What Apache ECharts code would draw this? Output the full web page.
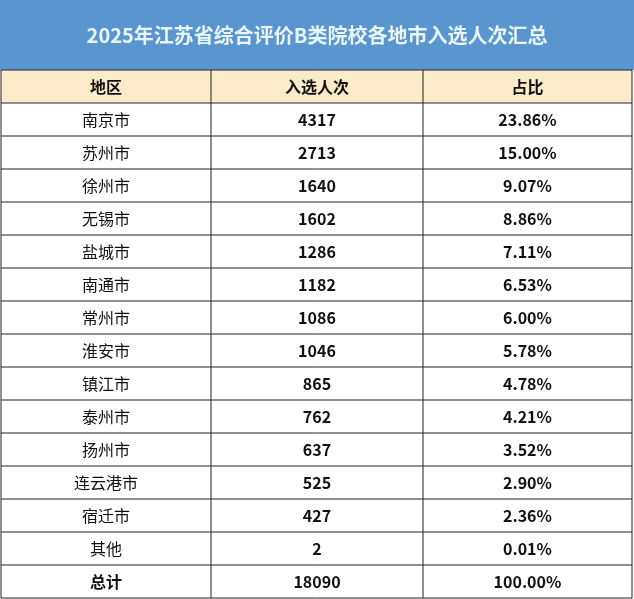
<!DOCTYPE html>
<html style="height:100%">
<head>
<meta charset="utf-8">
<script src="https://cdn.jsdelivr.net/npm/echarts@6/dist/echarts.min.js"></script>
</head>
<body style="height:100%;margin:0;background:#fff">
<div id="main" style="width:634px;height:599px;"></div>
<script type="text/javascript">
var title = '2025年江苏省综合评价B类院校各地市入选人次汇总';
var headers = ['地区', '入选人次', '占比'];
var regions = ['南京市','苏州市','徐州市','无锡市','盐城市','南通市','常州市','淮安市','镇江市','泰州市','扬州市','连云港市','宿迁市','其他','总计'];
var counts = [4317,2713,1640,1602,1286,1182,1086,1046,865,762,637,525,427,2,18090];
var shares = ['23.86%','15.00%','9.07%','8.86%','7.11%','6.53%','6.00%','5.78%','4.78%','4.21%','3.52%','2.90%','2.36%','0.01%','100.00%'];

var myChart = echarts.init(document.getElementById('main'));
// 表格布局
var colX = [1, 211, 423, 632];
var titleH = 70, headTop = 70, rowH = 33;
var font = '"Noto Sans CJK SC", sans-serif';
var els = [];

els.push({type:'rect', shape:{x:0,y:0,width:634,height:titleH}, style:{fill:'#5b95d0'}});
els.push({type:'text', x:317, y:35, style:{text:title, fill:'#e6f6fa', font:'bold 20px ' + font, align:'center', verticalAlign:'middle'}});
els.push({type:'rect', shape:{x:colX[0],y:headTop,width:colX[3]-colX[0],height:rowH}, style:{fill:'#fcebc8'}});

var rows = [headers];
regions.forEach(function(r, i){ rows.push([r, String(counts[i]), shares[i]]); });
var nRows = rows.length;

rows.forEach(function(row, i){
    var cy = headTop + rowH * i + rowH / 2;
    row.forEach(function(t, j){
        var bold = i === 0 || j > 0 || i === nRows - 1;
        els.push({type:'text', x:(colX[j]+colX[j+1])/2, y:cy,
            style:{text:t, fill:'#111', font:(bold?'bold ':'') + '16px ' + font, align:'center', verticalAlign:'middle'}});
    });
});

var bottom = headTop + rowH * nRows;
for (var i = 0; i <= nRows; i++) {
    var y = headTop + rowH * i;
    els.push({type:'line', shape:{x1:colX[0],y1:y,x2:colX[3],y2:y}, style:{stroke:'#222', lineWidth:1}});
}
colX.forEach(function(x){
    els.push({type:'line', shape:{x1:x,y1:headTop,x2:x,y2:bottom}, style:{stroke:'#222', lineWidth:1}});
});

myChart.setOption({animation:false, graphic:{elements:els}});
</script>
</body>
</html>
